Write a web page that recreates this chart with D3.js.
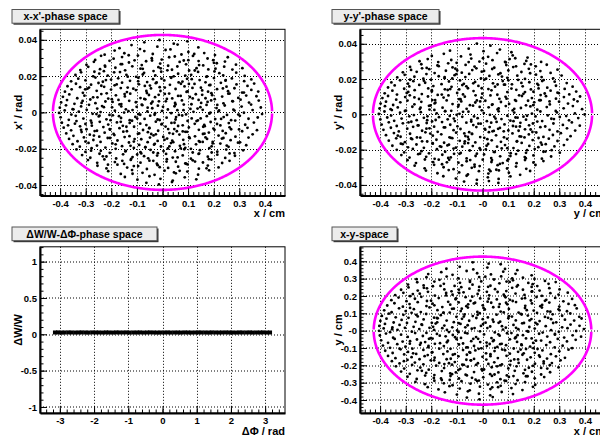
<!DOCTYPE html>
<html>
<head>
<meta charset="utf-8">
<script src="https://cdn.jsdelivr.net/npm/d3@7"></script>
<style>
  body { margin: 0; background: #fff; }
  svg { display: block; font-family: "Liberation Sans", Arial, Helvetica, sans-serif; font-weight: bold; }
</style>
</head>
<body>
<svg id="canvas" width="600" height="435"></svg>
<script>
// ---- axis ticks ----
const cmTicks = [-0.4, -0.3, -0.2, -0.1, 0, 0.1, 0.2, 0.3, 0.4];
const cmTickLabels = ['-0.4', '-0.3', '-0.2', '-0.1', '-0', '0.1', '0.2', '0.3', '0.4'];
const radTicks = [-0.04, -0.02, 0, 0.02, 0.04];
const radTickLabels = ['-0.04', '-0.02', '0', '0.02', '0.04'];
const phaseTicks = [-3, -2, -1, 0, 1, 2, 3];
const phaseTickLabels = ['-3', '-2', '-1', '0', '1', '2', '3'];
const dwTicks = [-1, -0.5, 0, 0.5, 1];
const dwTickLabels = ['-1', '-0.5', '0', '0.5', '1'];

// ---- acceptance ellipses (semi axes) ----
const xxEllipse = [0.428, 0.0427];
const yyEllipse = [0.428, 0.0432];
const xyEllipse = [0.425, 0.427];

// ---- x-x' points: x in 0.001 cm, x' in 1e-4 rad ----
const xxRaw = [
[-71,386],[-12,399],[44,379],[97,392],
[-168,354],[-121,371],[-88,349],[-20,362],[31,347],[59,374],[140,358],
[-226,318],[-187,341],[-149,326],[-132,315],[-71,338],[-38,322],[12,344],[74,319],[101,333],[163,327],[205,316],
[-263,289],[-240,312],[-191,296],[-158,305],[-109,287],[-96,313],[-42,299],[-3,291],[48,308],[83,286],[119,311],[176,297],[198,288],[255,304],
[-297,262],[-268,279],[-225,258],[-207,284],[-163,266],[-131,275],[-81,261],[-64,282],[-9,269],[22,257],[67,278],[92,265],[141,283],[159,259],[212,271],[244,280],[287,263],
[-321,233],[-290,251],[-244,238],[-229,227],[-184,246],[-146,232],[-118,254],[-77,240],[-35,228],[-16,249],[37,235],[58,253],[104,231],[133,244],[179,237],[203,226],[241,252],[273,236],[312,244],
[-340,206],[-318,221],[-271,199],[-247,214],[-214,203],[-166,222],[-141,207],[-103,196],[-72,218],[-28,204],[-5,224],[44,199],[61,213],[112,207],[139,223],[174,198],[222,216],[237,204],[288,219],[321,201],
[-357,171],[-329,186],[-301,177],[-262,192],[-233,169],[-201,181],[-173,188],[-127,174],[-94,191],[-60,167],[-37,183],[7,176],[33,193],[78,170],[96,185],[145,178],[168,166],[201,189],[246,175],[271,187],[319,172],[347,182],
[-371,144],[-338,158],[-322,139],[-279,153],[-250,162],[-228,141],[-187,149],[-158,164],[-136,137],[-92,155],[-69,146],[-26,161],[-11,139],[29,152],[63,165],[86,143],[125,157],[150,136],[183,150],[228,163],[250,142],[289,154],[332,146],[358,159],
[-381,114],[-355,127],[-311,108],[-293,131],[-257,119],[-218,105],[-201,126],[-163,134],[-139,112],[-104,123],[-61,107],[-45,132],[-8,118],[26,104],[51,129],[94,113],[117,135],[155,121],[191,106],[213,128],[256,117],[281,133],[318,109],[347,124],[374,115],
[-389,86],[-364,99],[-333,78],[-305,92],[-271,83],[-239,101],[-212,76],[-182,94],[-147,88],[-126,103],[-86,79],[-53,96],[-29,84],[9,102],[38,77],[71,91],[107,85],[130,100],[168,78],[194,95],[233,87],[262,104],[296,80],[327,93],[367,89],
[-396,55],[-373,68],[-344,47],[-312,63],[-282,71],[-262,51],[-223,60],[-198,73],[-161,46],[-130,64],[-104,56],[-67,72],[-44,49],[-14,61],[17,74],[49,52],[76,66],[113,45],[141,69],[176,58],[204,73],[238,50],[273,62],[305,70],[338,54],[376,65],
[-401,26],[-377,39],[-351,18],[-318,33],[-287,42],[-255,21],[-236,35],[-197,28],[-168,44],[-143,17],[-101,31],[-79,40],[-40,23],[-18,37],[21,16],[47,34],[83,43],[109,19],[148,29],[172,41],[211,24],[243,38],[277,15],[309,32],[346,43],[384,27],
[-404,-3],[-382,11],[-356,-12],[-327,4],[-296,14],[-273,-8],[-242,2],[-207,-14],[-186,9],[-150,-1],[-117,13],[-94,-10],[-59,5],[-31,-13],[-2,8],[34,-4],[58,12],[92,-11],[121,3],[157,14],[183,-7],[219,6],[252,-14],[281,10],[318,-2],[352,13],[389,-9],
[-398,-27],[-366,-41],[-339,-19],[-309,-34],[-280,-45],[-249,-22],[-219,-38],[-194,-16],[-162,-31],[-128,-43],[-106,-25],[-70,-36],[-48,-18],[-11,-42],[16,-29],[51,-39],[77,-17],[114,-33],[138,-44],[173,-21],[206,-37],[239,-26],[268,-43],[302,-19],[336,-35],[372,-28],
[-393,-57],[-369,-71],[-336,-48],[-301,-64],[-276,-73],[-245,-52],[-212,-67],[-178,-55],[-155,-74],[-119,-46],[-87,-62],[-63,-70],[-26,-51],[-4,-66],[35,-58],[61,-75],[98,-47],[126,-63],[163,-69],[188,-53],[226,-72],[259,-59],[284,-45],[323,-68],[357,-56],
[-386,-84],[-357,-99],[-322,-77],[-297,-93],[-265,-103],[-231,-81],[-205,-95],[-168,-87],[-139,-104],[-111,-79],[-76,-97],[-51,-86],[-17,-101],[12,-78],[46,-92],[79,-105],[103,-83],[142,-96],[165,-76],[199,-89],[235,-102],[262,-82],[299,-94],[332,-85],[369,-98],
[-376,-116],[-348,-129],[-316,-108],[-284,-123],[-247,-134],[-226,-112],[-188,-125],[-153,-106],[-129,-131],[-96,-118],[-57,-109],[-35,-127],[3,-135],[27,-114],[66,-122],[89,-107],[127,-132],[158,-119],[181,-111],[219,-128],[247,-115],[285,-134],[311,-104],[352,-121],
[-365,-146],[-332,-159],[-307,-138],[-270,-152],[-242,-163],[-205,-141],[-176,-155],[-148,-136],[-112,-161],[-83,-148],[-49,-139],[-19,-157],[18,-144],[42,-164],[81,-151],[104,-137],[142,-158],[174,-146],[196,-162],[238,-141],[266,-153],[303,-165],[336,-139],
[-351,-175],[-323,-189],[-289,-168],[-256,-183],[-223,-194],[-196,-171],[-158,-186],[-131,-166],[-91,-179],[-67,-192],[-30,-173],[-6,-188],[33,-169],[68,-184],[89,-195],[131,-176],[157,-163],[192,-187],[226,-172],[258,-190],[295,-167],[327,-181],
[-336,-204],[-301,-218],[-277,-197],[-241,-212],[-206,-223],[-183,-201],[-145,-215],[-112,-196],[-86,-219],[-47,-207],[-18,-225],[21,-199],[49,-214],[85,-203],[118,-221],[146,-208],[183,-197],[214,-217],[249,-205],[281,-224],[315,-209],
[-314,-235],[-282,-250],[-246,-228],[-219,-243],[-181,-254],[-154,-231],[-117,-246],[-83,-226],[-56,-253],[-21,-238],[14,-229],[40,-249],[79,-237],[111,-255],[143,-227],[177,-244],[214,-233],[245,-251],[283,-239],
[-291,-263],[-255,-278],[-227,-259],[-186,-274],[-150,-284],[-124,-262],[-86,-277],[-51,-266],[-22,-283],[17,-258],[52,-272],[89,-281],[118,-264],[158,-276],[191,-260],[233,-279],[262,-267],
[-254,-294],[-219,-309],[-176,-288],[-138,-304],[-95,-296],[-61,-312],[-19,-291],[22,-306],[61,-299],[98,-287],[142,-310],[177,-293],[219,-303],
[-212,-324],[-163,-339],[-119,-318],[-78,-333],[-31,-344],[8,-321],[52,-336],[97,-326],[139,-343],[182,-319],
[-147,-356],[-98,-371],[-51,-352],[-8,-366],[40,-376],[87,-358],[132,-369],
[-63,-388],[-14,-397],[37,-384],
[-287,137],[-246,-18],[-195,58],[-143,-212],[-95,171],[-52,-87],[-7,243],[38,-156],[82,12],[127,-271],[171,196],[213,-64],[257,103],[-318,-96],[-266,224],[-214,-141],[-161,33],[-112,-296],[-63,118],[-19,-39],[26,304],[71,-198],[118,77],[164,-117],[207,241],[251,-183],[296,-12],
[-233,-242],[-179,154],[-128,-58],[-77,209],[-33,-178],[13,61],[59,-248],[103,157],[149,-33],[192,-221],[236,132],[-348,17],[-301,-161],[-254,83],[-206,-92],[-158,266],[-109,-147],[-58,26],[-11,-302],[34,191],[79,-71],[124,322],[168,-138],[214,41],[262,-226],[311,109],
[-221,178],[-170,-21],[-122,-256],[-71,74],[-26,-121],[19,232],[64,-14],[111,-201],[155,97],[203,-96],[247,178],[-277,-57],[-229,29],[-183,-176],[-136,197],[-87,-13],[-41,286],[4,-213],[51,44],[96,-107],[143,261],[187,-2],[232,-144],[275,61],
[-191,-119],[-148,101],[-99,-232],[-49,148],[-2,-63],[45,-331],[89,203],[133,-48],[178,114],[-268,-128],[-224,252],[-172,69],[-125,-184],[-81,43],[-36,-267],[9,137],[56,-104],[101,288],[146,-163],[190,66],[-99,-34],[-58,-164],[-15,97],[27,-187],[72,158],[-133,7],[-86,241],[-44,-119],[2,31],[47,-57],[92,-283],[137,21],[181,-258],[-203,-43],[-157,-267],[-114,131],[-67,-192],[-23,165],[22,-92],[67,-322],[114,183],[159,-79],[201,273],
[-316,52],[-279,-211],[-239,147],[-189,221],[-141,-79],[-91,-116],[-39,59],[8,-151],[53,-26],[98,116],[141,-229],[187,151],[229,-36],[-258,-9],[-213,-288],[-163,-52],[-117,-338],[-72,-241],[-29,-4],[16,-271],[61,91],[106,-142],[151,52],[196,-171],[-342,-62],[-302,127],[-256,-101],[-36,-221],[-4,186],[41,-118],[84,-175],[126,231],[172,-308],[221,11],[268,-93]
];

// ---- y-y' points: y in 0.001 cm, y' in 1e-4 rad ----
const yyRaw = [
[-22,401],[31,389],
[-127,361],[-54,372],[4,358],[68,367],[113,352],
[-198,331],[-151,343],[-84,328],[-47,339],[22,326],[57,347],[118,334],[176,322],
[-246,301],[-214,313],[-173,296],[-122,308],[-101,292],[-44,316],[-12,299],[39,307],[91,294],[128,318],[171,303],[229,297],
[-283,269],[-239,284],[-218,263],[-176,277],[-134,289],[-117,266],[-66,280],[-31,271],[14,287],[46,264],[93,279],[120,268],[164,286],[208,272],[251,281],
[-311,238],[-279,252],[-257,241],[-208,256],[-187,234],[-143,247],[-106,259],[-81,236],[-40,251],[-3,242],[38,257],[70,233],[101,249],[152,240],[181,258],[226,245],[266,235],[293,253],
[-333,209],[-304,224],[-266,213],[-231,202],[-219,228],[-171,216],[-148,205],[-109,222],[-67,211],[-52,229],[-6,203],[27,218],[62,226],[97,207],[136,219],[166,201],[209,225],[231,211],[276,204],[309,220],
[-356,181],[-322,193],[-291,174],[-270,188],[-224,179],[-201,196],[-160,171],[-131,186],[-88,192],[-73,173],[-29,184],[8,197],[41,176],[79,189],[115,170],[139,195],[183,182],[214,173],[239,194],[282,185],[329,177],
[-369,152],[-343,164],[-306,145],[-286,158],[-247,167],[-212,147],[-192,160],[-147,142],[-121,156],[-79,166],[-57,148],[-16,161],[23,143],[49,157],[88,168],[113,146],[157,159],[189,141],[218,166],[253,151],[287,162],[321,144],[352,157],
[-382,119],[-352,134],[-334,112],[-290,127],[-265,137],[-237,115],[-198,129],[-175,110],[-136,138],[-99,121],[-76,113],[-35,132],[-1,117],[35,136],[58,111],[97,126],[132,139],[160,116],[199,128],[227,109],[266,134],[298,120],[339,113],[366,129],
[-391,92],[-369,104],[-337,83],[-302,98],[-284,108],[-248,87],[-213,101],[-196,81],[-152,95],[-133,107],[-91,86],[-69,100],[-22,79],[-4,94],[31,107],[66,88],[90,99],[127,81],[154,104],[193,92],[222,80],[248,103],[287,89],[318,98],[357,84],[381,101],
[-398,61],[-377,72],[-349,53],[-321,68],[-293,78],[-266,57],[-239,71],[-203,50],[-184,66],[-140,79],[-117,58],[-83,73],[-49,52],[-28,67],[11,77],[37,54],[72,70],[104,59],[131,76],[170,51],[202,68],[227,80],[263,56],[299,72],[334,61],[371,74],
[-402,33],[-381,46],[-354,24],[-331,39],[-299,21],[-274,43],[-245,30],[-209,48],[-188,25],[-156,38],[-122,20],[-95,44],[-62,31],[-37,49],[-3,23],[24,40],[59,28],[91,47],[118,22],[150,36],[187,45],[214,26],[251,41],[286,19],[317,34],[353,47],[389,29],
[-405,2],[-383,16],[-357,-7],[-322,9],[-303,19],[-268,-4],[-241,12],[-215,-11],[-179,6],[-146,18],[-128,-9],[-90,3],[-55,15],[-33,-12],[5,7],[29,-3],[63,17],[97,-8],[124,10],[160,-13],[193,4],[226,16],[255,-6],[291,11],[327,-10],[361,5],[399,-1],
[-399,-29],[-372,-18],[-345,-37],[-316,-24],[-286,-11],[-257,-33],[-229,-20],[-197,-40],[-170,-16],[-136,-28],[-108,-38],[-79,-14],[-44,-31],[-19,-22],[17,-39],[46,-13],[74,-27],[109,-36],[137,-19],[170,-30],[207,-12],[233,-38],[269,-25],[302,-15],[338,-34],[374,-21],
[-394,-58],[-366,-45],[-335,-66],[-311,-51],[-278,-42],[-250,-63],[-218,-49],[-189,-70],[-158,-44],[-126,-59],[-98,-68],[-63,-47],[-36,-61],[-7,-53],[28,-72],[55,-43],[86,-57],[119,-66],[148,-48],[182,-62],[214,-41],[245,-69],[277,-52],[314,-60],[349,-46],[380,-64],
[-387,-88],[-358,-76],[-327,-97],[-294,-81],[-271,-71],[-236,-93],[-207,-79],[-175,-99],[-146,-74],[-113,-90],[-86,-83],[-52,-101],[-24,-72],[11,-87],[39,-96],[68,-77],[101,-91],[131,-70],[166,-85],[195,-100],[226,-73],[262,-88],[293,-97],[330,-79],[362,-92],
[-377,-118],[-346,-106],[-320,-127],[-283,-110],[-256,-131],[-223,-102],[-194,-121],[-161,-113],[-129,-130],[-103,-104],[-67,-123],[-41,-111],[-9,-129],[25,-101],[53,-119],[84,-130],[117,-108],[145,-125],[181,-114],[210,-103],[238,-128],[275,-117],[306,-107],[344,-124],
[-366,-149],[-337,-136],[-303,-158],[-275,-141],[-243,-132],[-216,-154],[-180,-144],[-150,-161],[-118,-135],[-89,-150],[-54,-142],[-28,-159],[7,-133],[36,-147],[72,-156],[96,-139],[135,-152],[164,-131],[196,-146],[228,-160],[259,-138],[293,-151],[331,-143],
[-352,-178],[-319,-166],[-291,-187],[-258,-171],[-229,-190],[-195,-163],[-166,-181],[-131,-172],[-104,-189],[-70,-165],[-38,-180],[-11,-192],[22,-168],[57,-183],[88,-174],[121,-191],[153,-162],[183,-179],[218,-186],[247,-169],[281,-182],[318,-174],
[-335,-201],[-306,-216],[-272,-196],[-238,-209],[-209,-221],[-178,-198],[-146,-212],[-113,-194],[-85,-219],[-50,-205],[-22,-223],[13,-199],[44,-213],[75,-193],[110,-220],[139,-206],[170,-218],[204,-197],[238,-212],[270,-203],[302,-217],
[-317,-231],[-285,-245],[-251,-226],[-220,-241],[-187,-252],[-157,-229],[-124,-244],[-90,-224],[-62,-250],[-27,-236],[6,-227],[34,-248],[69,-238],[101,-254],[131,-225],[165,-242],[199,-233],[232,-251],[268,-239],
[-293,-260],[-260,-276],[-225,-256],[-193,-271],[-158,-283],[-130,-258],[-94,-274],[-62,-266],[-31,-285],[1,-257],[35,-270],[68,-281],[97,-262],[133,-277],[166,-259],[199,-273],[238,-265],
[-265,-291],[-226,-306],[-189,-286],[-152,-300],[-113,-311],[-80,-289],[-42,-303],[-11,-293],[26,-313],[59,-288],[96,-307],[131,-296],[171,-309],[207,-287],
[-221,-319],[-176,-334],[-132,-316],[-91,-329],[-57,-341],[-14,-322],[23,-336],[64,-318],[103,-331],[147,-343],[186,-321],
[-153,-351],[-104,-364],[-62,-348],[-22,-371],[21,-357],[63,-366],[109,-352],
[-72,-381],[-23,-393],[25,-378],[62,-389],
[-296,121],[-253,-63],[-207,27],[-161,-184],[-118,203],[-71,-108],[-24,261],[19,-141],[63,33],[109,-236],[152,178],[197,-52],[243,118],[-331,-121],[-283,196],[-236,-153],[-187,62],[-139,-272],[-91,141],[-44,-41],[2,318],[48,-214],[94,89],[141,-93],[186,233],[232,-172],[279,-27],
[-244,-223],[-198,137],[-151,-74],[-102,228],[-56,-163],[-9,73],[37,-259],[84,168],[129,-18],[174,-203],[219,147],[-359,29],[-312,-169],[-266,96],[-219,-81],[-171,273],[-124,-133],[-76,14],[-31,-297],[14,202],[61,-82],[106,313],[151,-126],[198,52],[246,-211],[293,123],
[-229,191],[-183,-32],[-134,-247],[-86,86],[-41,-111],[6,246],[51,-24],[97,-192],[143,108],[188,-86],[233,189],[-289,-46],[-242,38],[-194,-166],[-148,211],[-101,-3],[-54,296],[-8,-201],[39,57],[83,-96],[131,272],[174,-8],[219,-134],[262,73],
[-204,-109],[-159,112],[-111,-224],[-63,159],[-16,-53],[31,-322],[76,214],[121,-39],[166,126],[-279,-137],[-236,261],[-185,81],[-137,-176],[-93,54],[-48,-259],[-3,148],[44,-94],[88,297],[134,-154],[178,77],[-112,-24],[-69,-153],[-27,108],[16,-178],[59,169],[-146,18],[-99,249],[-57,-128],[-11,42],[34,-47],[79,-276],[124,31],[169,-249],[-216,-33],[-171,-257],[-126,143],[-79,-183],[-36,176],[9,-83],[54,-314],[101,193],[146,-69],[189,283]
];

// ---- x-y points: x and y in 0.001 cm ----
const xyRaw = [
[-38,394],[24,386],[71,383],
[-141,357],[-89,368],[-36,353],[19,364],[88,356],[136,349],
[-212,326],[-161,337],[-117,322],[-62,344],[-21,331],[33,324],[81,340],[129,328],[192,319],
[-258,297],[-219,308],[-168,293],[-140,312],[-94,301],[-49,288],[-13,309],[45,295],[73,313],[119,290],[158,305],[203,298],[244,287],
[-291,266],[-255,279],[-230,261],[-188,283],[-151,270],[-109,258],[-88,276],[-39,265],[-5,284],[31,259],[66,273],[106,281],[138,262],[179,275],[214,257],[258,270],[286,280],
[-318,236],[-289,249],[-253,231],[-217,244],[-194,256],[-149,238],[-121,227],[-83,251],[-51,242],[-14,232],[22,253],[49,239],[93,228],[116,247],[158,236],[192,252],[223,231],[261,245],[301,238],
[-341,205],[-309,218],[-283,199],[-245,213],[-213,224],[-186,202],[-142,217],[-117,207],[-74,221],[-40,196],[-19,212],[26,204],[59,223],[87,199],[129,214],[164,206],[192,225],[232,201],[265,216],[297,208],[333,219],
[-356,176],[-328,191],[-297,170],[-264,184],[-239,195],[-201,173],[-171,188],[-134,166],[-105,181],[-66,193],[-47,172],[-9,186],[20,167],[56,180],[90,192],[118,171],[154,185],[189,174],[211,194],[249,178],[284,189],[316,169],[350,183],
[-372,145],[-344,158],[-311,138],[-285,153],[-253,164],[-219,142],[-195,156],[-157,136],[-126,150],[-93,163],[-63,141],[-34,157],[1,146],[34,161],[64,137],[97,152],[131,165],[167,143],[193,157],[233,148],[261,162],[300,139],[336,154],[361,147],
[-384,117],[-355,106],[-326,129],[-300,113],[-268,124],[-241,107],[-207,134],[-176,118],[-152,104],[-112,127],[-85,113],[-57,133],[-20,108],[9,122],[42,135],[71,110],[103,125],[141,104],[166,130],[200,116],[232,133],[265,109],[297,123],[330,112],[368,128],
[-393,85],[-366,98],[-339,77],[-309,91],[-277,103],[-253,82],[-220,96],[-189,75],[-163,89],[-128,104],[-102,80],[-70,93],[-38,84],[-11,101],[21,76],[55,92],[83,105],[115,81],[150,97],[177,87],[213,102],[244,79],[274,94],[311,86],[343,99],[378,80],
[-399,56],[-375,69],[-347,47],[-316,62],[-289,74],[-262,51],[-230,65],[-198,45],[-175,71],[-140,58],[-112,49],[-80,68],[-52,57],[-24,73],[12,46],[40,63],[69,52],[101,72],[130,59],[162,44],[191,67],[223,55],[256,74],[288,48],[322,63],[358,58],[387,70],
[-403,27],[-381,39],[-352,18],[-324,33],[-295,44],[-269,22],[-238,36],[-207,16],[-183,41],[-149,29],[-118,19],[-93,43],[-58,31],[-31,15],[2,38],[30,24],[63,45],[91,17],[121,33],[155,42],[183,21],[214,37],[247,26],[276,44],[311,19],[344,35],[379,28],
[-404,-1],[-386,13],[-361,-9],[-332,5],[-303,16],[-276,-6],[-247,9],[-219,-13],[-189,4],[-157,14],[-131,-8],[-99,2],[-68,-12],[-42,11],[-10,-4],[19,15],[48,-10],[80,6],[113,-14],[140,8],[175,-3],[204,12],[235,-11],[268,3],[298,-7],[332,14],[366,-2],[396,9],
[-401,-28],[-377,-17],[-349,-41],[-318,-23],[-292,-36],[-263,-14],[-233,-31],[-203,-44],[-178,-19],[-144,-33],[-116,-25],[-84,-42],[-59,-16],[-25,-37],[6,-22],[35,-43],[67,-29],[96,-15],[130,-38],[158,-26],[192,-45],[221,-18],[253,-34],[283,-23],[319,-40],[352,-27],[385,-35],
[-396,-56],[-369,-70],[-343,-48],[-312,-63],[-284,-75],[-256,-51],[-224,-66],[-195,-46],[-166,-72],[-135,-58],[-101,-49],[-76,-74],[-44,-61],[-17,-47],[16,-69],[44,-55],[75,-76],[107,-50],[135,-65],[170,-45],[198,-71],[229,-57],[264,-67],[294,-48],[330,-62],[364,-53],
[-389,-86],[-361,-99],[-333,-78],[-301,-93],[-274,-104],[-244,-82],[-212,-96],[-186,-76],[-151,-89],[-125,-105],[-92,-80],[-63,-97],[-33,-88],[-4,-102],[28,-77],[58,-94],[92,-84],[122,-103],[152,-79],[186,-92],[215,-106],[249,-83],[282,-97],[313,-87],[350,-101],
[-380,-116],[-351,-129],[-320,-108],[-291,-123],[-259,-134],[-231,-111],[-198,-126],[-169,-104],[-137,-120],[-108,-135],[-76,-112],[-48,-127],[-15,-105],[14,-131],[47,-118],[77,-109],[107,-133],[139,-122],[170,-106],[204,-128],[234,-114],[267,-136],[300,-119],[336,-110],
[-369,-146],[-340,-159],[-306,-137],[-277,-153],[-246,-165],[-214,-141],[-187,-156],[-153,-135],[-124,-162],[-94,-148],[-61,-139],[-33,-163],[0,-151],[31,-136],[60,-158],[94,-145],[124,-166],[156,-139],[188,-154],[221,-143],[252,-161],[287,-148],[322,-157],
[-354,-176],[-324,-189],[-293,-169],[-264,-184],[-231,-194],[-202,-171],[-169,-186],[-140,-165],[-108,-181],[-79,-196],[-45,-172],[-18,-188],[15,-167],[46,-183],[76,-195],[110,-174],[141,-186],[174,-168],[205,-191],[239,-178],[271,-187],[305,-171],
[-338,-206],[-306,-219],[-275,-198],[-243,-213],[-210,-225],[-181,-202],[-150,-216],[-119,-196],[-87,-221],[-58,-208],[-25,-197],[6,-224],[36,-211],[69,-200],[101,-218],[133,-206],[166,-226],[197,-203],[229,-215],[263,-199],[297,-212],
[-318,-236],[-284,-249],[-254,-229],[-220,-244],[-188,-256],[-159,-233],[-126,-247],[-94,-227],[-66,-254],[-33,-239],[-1,-230],[30,-251],[62,-241],[95,-258],[126,-232],[160,-246],[193,-237],[229,-253],[264,-240],
[-293,-266],[-257,-279],[-224,-259],[-190,-273],[-159,-285],[-125,-262],[-92,-276],[-61,-258],[-27,-283],[3,-269],[37,-261],[70,-280],[103,-267],[137,-286],[170,-263],[204,-275],[241,-268],
[-262,-296],[-225,-309],[-188,-289],[-151,-304],[-117,-315],[-82,-292],[-47,-306],[-14,-288],[21,-311],[57,-298],[92,-290],[129,-308],[166,-297],[206,-312],
[-214,-326],[-172,-339],[-129,-320],[-89,-334],[-50,-344],[-10,-323],[31,-337],[71,-318],[113,-331],[156,-343],[197,-324],
[-147,-356],[-100,-369],[-57,-350],[-14,-364],[30,-373],[75,-354],[119,-366],
[-61,-386],[-12,-396],[40,-383],
[-283,131],[-241,-71],[-193,22],[-149,-193],[-104,186],[-58,-96],[-13,252],[31,-147],[76,26],[121,-262],[166,187],[209,-58],[254,111],[-324,-104],[-272,211],[-226,-147],[-177,48],[-128,-284],[-81,127],[-36,-47],[11,311],[57,-206],[103,83],[149,-109],[194,226],[239,-189],[283,-19],
[-237,-232],[-188,146],[-139,-67],[-91,217],[-46,-171],[1,66],[47,-253],[92,161],[137,-26],[181,-214],[226,141],[-353,8],[-307,-176],[-259,91],[-211,-88],[-164,258],[-116,-139],[-67,19],[-21,-291],[24,184],[69,-78],[116,301],[161,-131],[207,45],[253,-219],[301,117],
[-217,171],[-167,-29],[-119,-251],[-73,81],[-28,-114],[17,224],[62,-21],[108,-197],[153,93],[199,-101],[244,172],[-283,-61],[-236,33],[-189,-171],[-142,203],[-94,-9],[-49,281],[-3,-222],[43,51],[88,-113],[134,254],[179,-6],[224,-151],[268,66],
[-196,-124],[-153,103],[-104,-241],[-56,152],[-9,-66],[38,-327],[83,207],[127,-44],[173,118],[-271,-131],[-229,247],[-178,73],[-131,-188],[-86,39],[-41,-272],[4,131],[49,-99],[94,283],[139,-166],[184,59],[-107,-38],[-63,-168],[-19,91],[23,-192],[67,153],[-139,4],[-92,236],[-51,-124],[-6,27],[41,-61],[86,-288],[131,16],[176,-263],[-209,-47],[-162,-276],[-119,126],[-73,-197],[-29,161],[17,-88],[61,-326],[107,178],[153,-84],[196,268]
];

// ---- dW/W - dPhi points ----
const dwPhase = [-3.14,-3.05,-2.95,-2.86,-2.75,-2.66,-2.55,-2.45,-2.36,-2.25,-2.16,-2.05,-1.95,-1.86,-1.75,-1.65,
  -1.56,-1.45,-1.35,-1.26,-1.15,-1.05,-0.96,-0.85,-0.75,-0.66,-0.55,-0.45,-0.36,-0.25,-0.15,-0.06,
  0.05,0.15,0.24,0.35,0.45,0.54,0.65,0.75,0.84,0.95,1.05,1.14,1.25,1.35,1.44,1.55,
  1.65,1.74,1.85,1.95,2.04,2.15,2.25,2.34,2.45,2.55,2.64,2.75,2.85,2.94,3.05,3.14];
const dwValue = [0.025,0.026,0.024,0.025,0.026,0.025,0.024,0.025,0.026,0.025,0.024,0.026,0.025,0.025,0.024,0.026,
  0.025,0.024,0.026,0.025,0.025,0.026,0.024,0.025,0.025,0.026,0.024,0.025,0.026,0.025,0.024,0.025,
  0.025,0.026,0.024,0.025,0.025,0.024,0.026,0.025,0.024,0.025,0.026,0.025,0.025,0.024,0.026,0.025,
  0.024,0.025,0.026,0.025,0.025,0.024,0.026,0.025,0.025,0.026,0.024,0.025,0.025,0.026,0.024,0.025];

// convert raw units to axis units
const xxPoints = xxRaw.map(d => [d[0] / 1000, d[1] / 10000]);
const yyPoints = yyRaw.map(d => [d[0] / 1000, d[1] / 10000]);
const xyPoints = xyRaw.map(d => [d[0] / 1000, d[1] / 1000]);
const dwPoints = dwPhase.map((p, i) => [p, dwValue[i]]);

const svg = d3.select('#canvas');
const padW = 320, padH = 217.5;
const frame = {left: 40, right: 285, top: 29.3, bottom: 195.5};
const majorLen = 7, minorLen = 3.5;

const pads = [
  {col: 0, row: 0, title: "x-x'-phase space", boxW: 107, xTitle: 'x / cm', yTitle: "x' / rad",
   xDomain: [-0.4785, 0.4785], yDomain: [-0.0458, 0.0458], xTicks: cmTicks, xLabels: cmTickLabels, xMinor: 0.02,
   yTicks: radTicks, yLabels: radTickLabels, yMinor: 0.005, points: xxPoints, ellipse: xxEllipse, marker: 'dot'},
  {col: 1, row: 0, title: "y-y'-phase space", boxW: 107, xTitle: 'y / cm', yTitle: "y' / rad",
   xDomain: [-0.4785, 0.4785], yDomain: [-0.046, 0.0482], xTicks: cmTicks, xLabels: cmTickLabels, xMinor: 0.02,
   yTicks: radTicks, yLabels: radTickLabels, yMinor: 0.005, points: yyPoints, ellipse: yyEllipse, marker: 'dot'},
  {col: 0, row: 1, title: '\u0394W/W-\u0394\u03A6-phase space', boxW: 145, xTitle: '\u0394\u03A6 / rad', yTitle: '\u0394W/W',
   xDomain: [-3.58, 3.58], yDomain: [-1.083, 1.204], xTicks: phaseTicks, xLabels: phaseTickLabels, xMinor: 0.2,
   yTicks: dwTicks, yLabels: dwTickLabels, yMinor: 0.1, points: dwPoints, ellipse: null, marker: 'square'},
  {col: 1, row: 1, title: 'x-y-space', boxW: 65, xTitle: 'x / cm', yTitle: 'y / cm',
   xDomain: [-0.4785, 0.4785], yDomain: [-0.475, 0.4836], xTicks: cmTicks, xLabels: cmTickLabels, xMinor: 0.02,
   yTicks: cmTicks, yLabels: cmTickLabels, yMinor: 0.02, points: xyPoints, ellipse: xyEllipse, marker: 'dot'}
];

const minorValues = (domain, step) => {
  let vals = [];
  let start = Math.ceil(domain[0] / step - 1e-6);
  let end = Math.floor(domain[1] / step + 1e-6);
  for (let k = start; k <= end; k++) vals.push(k * step);
  return vals;
};

pads.forEach(p => {
  const g = svg.append('g')
    .attr('transform', `translate(${p.col * padW}, ${p.row * padH})`);

  const x = d3.scaleLinear().domain(p.xDomain).range([frame.left, frame.right]);
  const y = d3.scaleLinear().domain(p.yDomain).range([frame.bottom, frame.top]);

  // Dotted grid at the major ticks
  const grid = g.append('g').attr('class', 'grid')
    .style('stroke', '#000').style('stroke-width', 1).style('stroke-dasharray', '1,2');
  grid.selectAll('line.gx').data(p.xTicks).join('line')
    .attr('class', 'gx')
    .attr('x1', d => Math.round(x(d)) + 0.5).attr('x2', d => Math.round(x(d)) + 0.5)
    .attr('y1', frame.top).attr('y2', frame.bottom);
  grid.selectAll('line.gy').data(p.yTicks).join('line')
    .attr('class', 'gy')
    .attr('y1', d => Math.round(y(d)) + 0.5).attr('y2', d => Math.round(y(d)) + 0.5)
    .attr('x1', frame.left).attr('x2', frame.right);

  // Points
  if (p.marker === 'square') {
    g.append('g').selectAll('rect').data(p.points).join('rect')
      .attr('x', d => x(d[0]) - 2.1)
      .attr('y', d => y(d[1]) - 2)
      .attr('width', 4.2)
      .attr('height', 4)
      .style('fill', '#000');
  } else {
    g.append('g').selectAll('circle').data(p.points).join('circle')
      .attr('cx', d => x(d[0]))
      .attr('cy', d => y(d[1]))
      .attr('r', 1.4)
      .style('fill', '#000');
  }

  // Ellipse, drawn as two halves like the original
  if (p.ellipse) {
    const [a, b] = p.ellipse;
    const line = d3.line().x(t => x(a * Math.cos(t))).y(t => y(b * Math.sin(t)));
    const gap = 0.015;
    [[gap, Math.PI - gap], [Math.PI + gap, 2 * Math.PI - gap]].forEach(([t0, t1]) => {
      let ts = d3.range(t0, t1, 0.01);
      ts.push(t1);
      g.append('path')
        .attr('d', line(ts))
        .style('fill', 'none')
        .style('stroke', '#ff00ff')
        .style('stroke-width', 2.6);
    });
  }

  // Frame
  g.append('rect')
    .attr('x', frame.left).attr('y', frame.top)
    .attr('width', frame.right - frame.left).attr('height', frame.bottom - frame.top)
    .style('fill', 'none').style('stroke', '#000').style('stroke-width', 1);

  // Minor ticks (inward)
  g.append('g')
    .attr('transform', `translate(0, ${frame.bottom})`)
    .call(d3.axisBottom(x).tickValues(minorValues(p.xDomain, p.xMinor)).tickSize(-minorLen).tickFormat(''))
    .call(s => s.select('.domain').remove());
  g.append('g')
    .attr('transform', `translate(${frame.left}, 0)`)
    .call(d3.axisLeft(y).tickValues(minorValues(p.yDomain, p.yMinor)).tickSize(-minorLen).tickFormat(''))
    .call(s => s.select('.domain').remove());

  // Major ticks with labels
  const xAxis = g.append('g')
    .attr('transform', `translate(0, ${frame.bottom})`)
    .call(d3.axisBottom(x).tickValues(p.xTicks).tickSize(-majorLen).tickSizeOuter(0).tickPadding(4.3)
      .tickFormat((d, i) => p.xLabels[i]));
  const yAxis = g.append('g')
    .attr('transform', `translate(${frame.left}, 0)`)
    .call(d3.axisLeft(y).tickValues(p.yTicks).tickSize(-majorLen).tickSizeOuter(0).tickPadding(3)
      .tickFormat((d, i) => p.yLabels[i]));
  [xAxis, yAxis].forEach(ax => {
    ax.select('.domain').style('stroke-width', 2);
    ax.selectAll('text').style('font-size', '9.5px').style('font-weight', 'bold')
      .style('font-family', '"Liberation Sans", Arial, sans-serif').style('fill', '#000');
  });

  // Axis titles
  g.append('text')
    .attr('x', frame.right).attr('y', frame.bottom + 21.5)
    .style('text-anchor', 'end')
    .style('font-size', '11px')
    .text(p.xTitle);
  g.append('text')
    .attr('transform', `translate(22, ${(frame.top + frame.bottom) / 2}) rotate(-90)`)
    .style('text-anchor', 'middle')
    .style('font-size', '11px')
    .text(p.yTitle);

  // Title box with shadow
  const box = {x: 12, y: 9.5, h: 13.7};
  g.append('rect')
    .attr('x', box.x + 1.5).attr('y', box.y + 1.5)
    .attr('width', p.boxW).attr('height', box.h)
    .style('fill', '#333');
  g.append('rect')
    .attr('x', box.x).attr('y', box.y)
    .attr('width', p.boxW).attr('height', box.h)
    .style('fill', '#ececec').style('stroke', '#555').style('stroke-width', 1);
  g.append('text')
    .attr('x', box.x + p.boxW / 2).attr('y', box.y + box.h / 2 + 3.8)
    .style('text-anchor', 'middle')
    .style('font-size', '10.5px')
    .text(p.title);
});
</script>
</body>
</html>
